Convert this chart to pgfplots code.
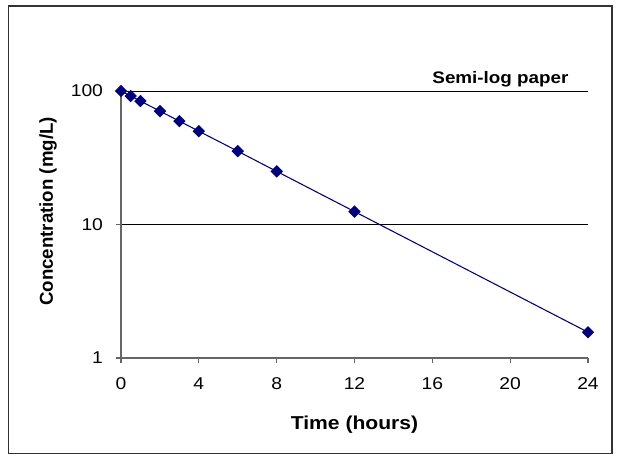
\documentclass[border=0pt]{standalone}
\usepackage{pgfplots}
\pgfplotsset{compat=1.18}
\usepackage{fontspec}
\setmainfont{Liberation Sans}
\newfontfamily\widefont[FakeStretch=1.13]{Liberation Sans}
\definecolor{navyblue}{RGB}{0,0,128}
\begin{document}
\begin{tikzpicture}
\useasboundingbox (0pt,0pt) rectangle (463.5pt,-345.75pt);
\draw[line width=0.9pt, black!80] (6.5pt,-4.5pt) rectangle (459pt,-340pt);
\begin{axis}[
  at={(90.75pt,-268.5pt)}, anchor=south west,
  width=350.25pt, height=200.25pt, scale only axis,
  ymode=log, xmin=0, xmax=24, ymin=1, ymax=100,
  xtick={0,4,8,12,16,20,24}, ytick={1,10,100},
  yticklabels={1,10,100},
  yminorticks=false, xminorticks=false,
  axis x line=bottom, axis y line=left,
  axis line style={-, gray!80!black, line width=0.8pt},
  tick style={gray!80!black, line width=0.8pt},
  tick align=outside, major tick length=4pt,
  ymajorgrids, grid style={black, line width=0.6pt},
  /pgf/number format/assume math mode=true,
  ticklabel style={font=\widefont\fontsize{12.8}{15}\selectfont},
  xticklabel style={yshift=-7.5pt},
  yticklabel style={xshift=-6pt},
  xlabel={\textbf{Time (hours)}},
  ylabel={\textbf{Concentration (mg/L)}},
  xlabel style={font=\widefont\bfseries\fontsize{14}{17}\selectfont, at={(axis description cs:0.5,-0.251)}, anchor=center},
  ylabel style={font=\bfseries\fontsize{14}{17}\selectfont, at={(axis description cs:-0.156,0.549)}, anchor=center},
  clip=false,
]
\addplot[navyblue, line width=0.8pt, mark=square*, mark size=2.9pt, mark options={rotate=45, fill=navyblue, draw=navyblue}]
coordinates {(0,100) (0.5,91.7) (1,84.1) (2,70.7) (3,59.5) (4,50) (6,35.4) (8,25) (12,12.5) (24,1.56)};
\node[anchor=base, inner sep=0pt, yshift=6pt, font=\widefont\bfseries\fontsize{12.5}{15}\selectfont] at (axis description cs:0.8126,1) {Semi-log paper};
\end{axis}
\end{tikzpicture}
\end{document}
